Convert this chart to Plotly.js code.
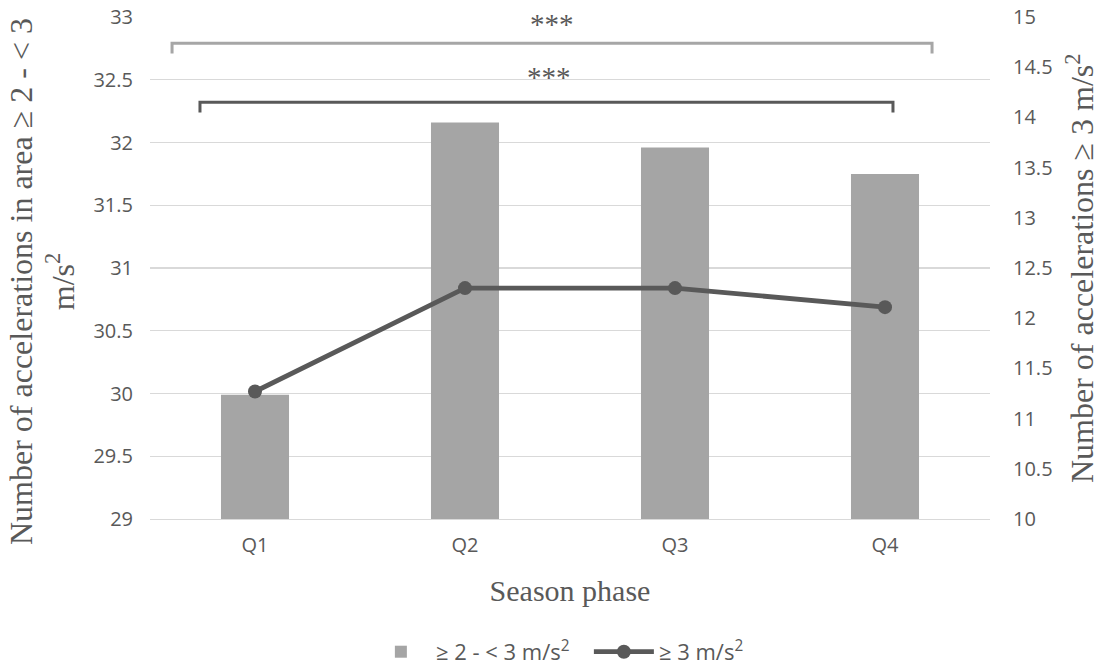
<!DOCTYPE html>
<html>
<head>
<meta charset="utf-8">
<script src="https://cdn.plot.ly/plotly-3.0.1.min.js"></script>
<style>html,body{margin:0;padding:0;background:#fff;}#chart{width:1100px;height:670px;}</style>
</head>
<body>
<div id="chart"></div>
<script>
const categories = ["Q1", "Q2", "Q3", "Q4"];
const accel2to3 = [29.99, 32.16, 31.96, 31.75];
const accel3plus = [11.27, 12.30, 12.30, 12.11];
const seriesNames = ["≥ 2 - < 3 m/s<sup>2</sup>", "≥ 3 m/s<sup>2</sup>"];
const sigLabels = ["***", "***"];
const leftTitle = "Number of accelerations in area ≥ 2 - < 3<br>m/s<sup>2</sup>";
const rightTitle = "Number of accelerations ≥ 3 m/s<sup>2</sup>";
const xTitle = "Season phase";

const grey = "#595959";
const serif = "Liberation Serif, Times New Roman, serif";
const sans = "Open Sans, Noto Sans, sans-serif";

const traces = [
  {
    type: "bar", x: categories, y: accel2to3, name: seriesNames[0],
    marker: {color: "#a5a5a5"}, width: 0.324, yaxis: "y"
  },
  {
    type: "scatter", mode: "lines+markers", x: categories, y: accel3plus, name: seriesNames[1],
    line: {color: grey, width: 4.8}, marker: {color: grey, size: 14}, yaxis: "y2"
  }
];

function bracket(x0, x1, yTop, yBot, color) {
  return {
    type: "path", xref: "x", yref: "y",
    path: `M ${x0} ${yBot} L ${x0} ${yTop} L ${x1} ${yTop} L ${x1} ${yBot}`,
    line: {color: color, width: 3}
  };
}

const layout = {
  width: 1100, height: 670,
  margin: {l: 150, r: 110, t: 17, b: 151},
  paper_bgcolor: "#fff", plot_bgcolor: "#fff",
  showlegend: true,
  legend: {orientation: "h", x: 0.257, xanchor: "left", yref: "container", y: 0.027, yanchor: "middle",
           font: {family: sans, size: 22, color: grey}, traceorder: "normal",
           entrywidth: 148, itemwidth: 60},
  xaxis: {
    type: "category", showgrid: false, showline: true, linecolor: "#d9d9d9", linewidth: 1.3,
    ticks: "", ticklabelstandoff: 8, tickfont: {family: sans, size: 20, color: grey},
    title: {text: xTitle, font: {family: serif, size: 30, color: grey}, standoff: 22}
  },
  yaxis: {
    range: [29, 33], dtick: 0.5, showgrid: true, gridcolor: "#d9d9d9", gridwidth: 1.3,
    zeroline: false, showline: false, ticks: "", ticklabelstandoff: 16,
    tickfont: {family: sans, size: 20, color: grey}
  },
  yaxis2: {
    range: [10, 15], dtick: 0.5, overlaying: "y", side: "right", showgrid: false,
    zeroline: false, showline: false, ticks: "", ticklabelstandoff: 22,
    tickfont: {family: sans, size: 20, color: grey}
  },
  shapes: [
    bracket(-0.395, 3.224, 32.79, 32.71, "#a6a6a6"),
    bracket(-0.262, 3.038, 32.32, 32.24, grey)
  ],
  annotations: [
    {x: 1.414, y: 32.945, xref: "x", yref: "y", text: sigLabels[0], showarrow: false,
     yanchor: "middle", font: {family: serif, size: 29, color: grey}},
    {x: 1.40, y: 32.52, xref: "x", yref: "y", text: sigLabels[1], showarrow: false,
     yanchor: "middle", font: {family: serif, size: 29, color: grey}},
    {x: -108 / 840, y: (519 - 282) / 502, xref: "paper", yref: "paper", text: leftTitle, showarrow: false,
     textangle: -90, xanchor: "center", yanchor: "middle", font: {family: serif, size: 32, color: grey}},
    {x: 1 + 90 / 840, y: 0.5, xref: "paper", yref: "paper", text: rightTitle, showarrow: false,
     textangle: -90, xanchor: "center", yanchor: "middle", font: {family: serif, size: 32, color: grey}}
  ]
};

Plotly.newPlot("chart", traces, layout, {displayModeBar: false, staticPlot: true});
</script>
</body>
</html>
